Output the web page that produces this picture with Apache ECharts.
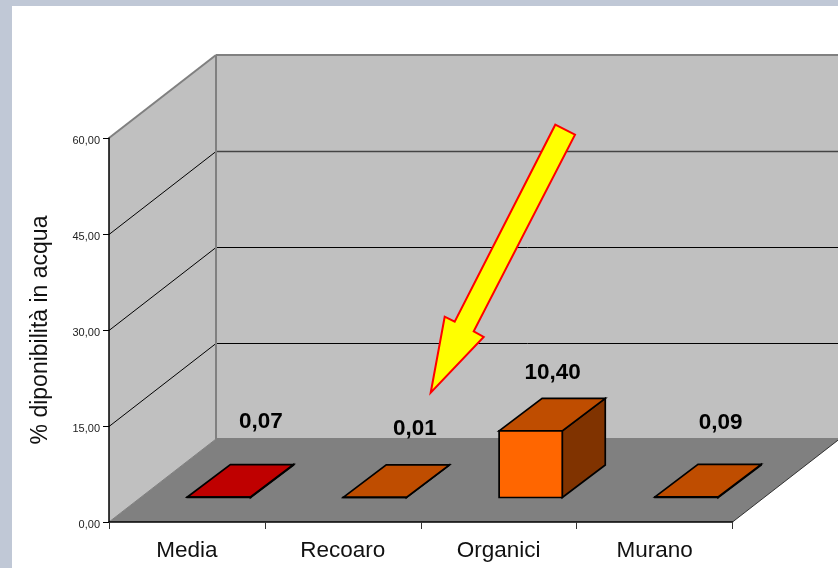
<!DOCTYPE html>
<html>
<head>
<meta charset="utf-8">
<style>
  html, body { margin: 0; padding: 0; background: #c0c8d6; }
  #chart { width: 838px; height: 568px; }
</style>
<script src="https://cdn.jsdelivr.net/npm/echarts@6/dist/echarts.min.js"></script>
</head>
<body>
<div id="chart"></div>
<script>
// Availability in water, by sample group
const categories = ['Media', 'Recoaro', 'Organici', 'Murano'];
const values = [0.07, 0.01, 10.40, 0.09];
const frontColors = ['#ff0000', '#ff6600', '#ff6600', '#ff6600'];
const axisTitle = '% diponibilità in acqua';
const axisMax = 60;
const axisStep = 15;

// Pseudo-3D projection of the plot box and the bars inside it
const DEPTH_X = 107, DEPTH_Y = 83;
const BAR_FRONT_X = 32, BAR_FRONT_Y = 24.5;
const BAR_DEPTH_X = 43, BAR_DEPTH_Y = 32.5;
const BAR_RATIO = 0.405;
const WALL = '#c0c0c0', FLOOR = '#808080', EDGE = '#808080';
// Hand-placed value labels: shift from the back-top centre of each bar
const labelShift = [[-1, -43], [-3, -36], [-21, -26], [-9, -42]];

const fmt = v => v.toFixed(2).replace('.', ',');

function shade(hex, k) {
  const n = parseInt(hex.slice(1), 16);
  const c = [(n >> 16) & 255, (n >> 8) & 255, n & 255].map(x => Math.round(x * k));
  return 'rgb(' + c.join(',') + ')';
}
const poly = (points, fill, stroke, width) => ({
  type: 'polygon',
  shape: { points },
  style: { fill, stroke: stroke || null, lineWidth: width || 0, lineJoin: 'miter' }
});
const line = (a, b, stroke, width) => ({
  type: 'line',
  shape: { x1: a[0], y1: a[1], x2: b[0], y2: b[1] },
  style: { stroke, lineWidth: width }
});

function renderBox(params, api) {
  if (params.dataIndex !== 0) return;
  const g = params.coordSys;
  const L = g.x, R = g.x + g.width, T = g.y, B = g.y + g.height;
  const back = p => [p[0] + DEPTH_X, p[1] - DEPTH_Y];
  const children = [
    poly([[L, T], back([L, T]), back([L, B]), [L, B]], WALL),
    poly([back([L, T]), back([R, T]), back([R, B]), back([L, B])], WALL),
    poly([[L, B], back([L, B]), back([R, B]), [R, B]], FLOOR)
  ];
  // Gridlines wrap from the side wall onto the back wall; the upper one reads softer
  for (let v = axisStep; v < axisMax; v += axisStep) {
    const y = Math.round(api.coord([0, v])[1]) + 0.5;
    const soft = v === axisMax - axisStep;
    children.push(line([L, y], back([L, y]), '#000', 1));
    children.push(line(back([L, y]), back([R, y]), soft ? '#444' : '#000', soft ? 1.5 : 1));
  }
  children.push(
    line([L, T], back([L, T]), EDGE, 2),
    line(back([L, T]), back([R, T]), EDGE, 2),
    line(back([L, T]), back([L, B]), EDGE, 2),
    line(back([L, B]), back([R, B]), EDGE, 2),
    line([L, B], back([L, B]), EDGE, 1),
    line([R, B], back([R, B]), '#333', 1)
  );
  return { type: 'group', children };
}

function renderBar(params, api) {
  const i = api.value(0), v = api.value(1);
  const base = api.coord([i, 0]);
  const top = api.coord([i, v]);
  const w = api.size([1, 0])[0] * BAR_RATIO;
  const x0 = base[0] + BAR_FRONT_X - w / 2;
  const x1 = x0 + w;
  const yb = base[1] - BAR_FRONT_Y;
  const yt = top[1] - BAR_FRONT_Y;
  const dx = BAR_DEPTH_X, dy = BAR_DEPTH_Y;
  const color = frontColors[i];
  const shift = labelShift[i];
  return {
    type: 'group',
    children: [
      poly([[x1, yb], [x1 + dx, yb - dy], [x1 + dx, yt - dy], [x1, yt]], shade(color, 0.5), '#000', 1.7),
      poly([[x0, yt], [x0 + dx, yt - dy], [x1 + dx, yt - dy], [x1, yt]], shade(color, 0.75), '#000', 1.7),
      poly([[x0, yb], [x1, yb], [x1, yt], [x0, yt]], color, '#000', 1.7),
      {
        type: 'text',
        style: {
          x: (x0 + x1) / 2 + dx + shift[0],
          y: yt - dy + shift[1],
          text: fmt(v),
          align: 'center',
          verticalAlign: 'middle',
          font: 'bold 22.5px "Liberation Sans"',
          fill: '#000'
        }
      }
    ]
  };
}

const chart = echarts.init(document.getElementById('chart'), null, { renderer: 'canvas' });
chart.setOption({
  animation: false,
  backgroundColor: 'transparent',
  textStyle: { fontFamily: '"Liberation Sans"' },
  grid: { left: 109, top: 138, width: 623.5, height: 384, containLabel: false },
  graphic: [
    {
      type: 'rect', z: -10,
      shape: { x: 12, y: 6, width: 826, height: 562 },
      style: { fill: '#fff' }
    },
    {
      // Callout arrow pointing at the low readings
      type: 'polygon', z: 100,
      shape: {
        points: [[555.3, 124.7], [575, 134.7], [473.7, 331.3], [483.7, 337],
                 [430.7, 392.7], [444.7, 316.7], [454.7, 321.7]]
      },
      style: { fill: '#ffff00', stroke: '#ff0000', lineWidth: 2, lineJoin: 'miter' }
    }
  ],
  xAxis: {
    type: 'category',
    data: categories,
    z: 5,
    axisLine: { lineStyle: { color: '#000', width: 1.5 } },
    axisTick: { show: true, alignWithLabel: false, length: 7, lineStyle: { color: '#333', width: 1 } },
    axisLabel: { fontSize: 22.5, color: '#111', margin: 17, fontFamily: '"Liberation Sans"' },
    splitLine: { show: false }
  },
  yAxis: {
    type: 'value',
    min: 0,
    max: axisMax,
    interval: axisStep,
    z: 5,
    name: axisTitle,
    nameLocation: 'middle',
    nameRotate: 90,
    nameGap: 57,
    nameTextStyle: { fontSize: 23, color: '#111', fontFamily: '"Liberation Sans"' },
    axisLine: { show: true, lineStyle: { color: '#000', width: 1.5 } },
    axisTick: { show: true, length: 6, lineStyle: { color: '#000', width: 1 } },
    axisLabel: {
      margin: 9,
      formatter: v => '{n|' + fmt(v) + '}',
      rich: { n: { fontSize: 11, color: '#222', padding: [6, 0, 0, 0], fontFamily: '"Liberation Sans"' } }
    },
    splitLine: { show: false }
  },
  series: [
    {
      type: 'custom',
      name: 'box',
      z: 2,
      silent: true,
      clip: false,
      data: [[0, 0]],
      encode: { x: 0, y: 1 },
      renderItem: renderBox
    },
    {
      type: 'custom',
      name: 'bars',
      z: 3,
      clip: false,
      data: values.map((v, i) => [i, v]),
      encode: { x: 0, y: 1 },
      renderItem: renderBar
    }
  ]
});
</script>
</body>
</html>
